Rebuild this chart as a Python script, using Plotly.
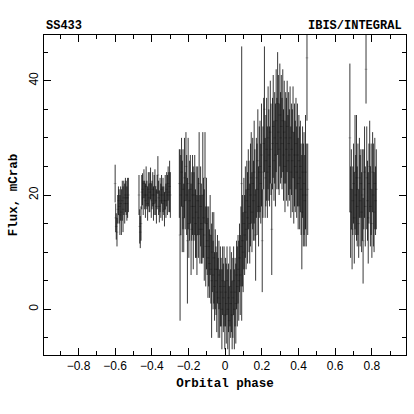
import plotly.graph_objects as go

# ---- data ----
# group A: orbital phase -0.60 .. -0.53
phase_a = [-0.600, -0.597, -0.594, -0.590, -0.586, -0.582, -0.578, -0.574, -0.570, -0.566,
           -0.561, -0.557, -0.553, -0.548, -0.544, -0.540, -0.536, -0.532, -0.528]
flux_a = [22.0, 16.0, 14.5, 13.5, 17.5, 19.0, 18.0, 16.5, 18.5, 17.0,
          19.0, 17.5, 19.5, 18.5, 20.0, 19.5, 18.5, 19.5, 20.0]
err_a = [3.3, 2.5, 2.3, 2.5, 2.5, 2.5, 3.0, 3.5, 3.0, 4.0,
         3.5, 4.0, 3.0, 3.5, 3.0, 3.0, 3.0, 3.5, 3.0]

# group B: orbital phase -0.47 .. -0.30
phase_b = [-0.470, -0.466, -0.463, -0.459, -0.455, -0.451, -0.447, -0.443, -0.439, -0.435,
           -0.431, -0.427, -0.423, -0.419, -0.415, -0.411, -0.407, -0.403, -0.399, -0.395,
           -0.391, -0.387, -0.383, -0.379, -0.375, -0.371, -0.367, -0.363, -0.359, -0.355,
           -0.351, -0.347, -0.343, -0.339, -0.335, -0.331, -0.327, -0.323, -0.319, -0.315,
           -0.311, -0.307, -0.303, -0.299]
flux_b = [20.0, 14.5, 13.5, 15.0, 20.5, 21.0, 19.5, 22.0, 20.0, 19.0,
          21.5, 20.0, 18.5, 21.0, 19.5, 20.5, 22.0, 19.0, 20.0, 21.0,
          18.5, 20.0, 21.5, 19.0, 18.0, 20.5, 23.5, 19.5, 18.0, 20.0,
          19.0, 21.0, 18.5, 20.0, 19.0, 17.5, 20.5, 19.0, 21.0, 20.0,
          22.0, 20.5, 21.5, 20.0]
err_b = [3.5, 3.0, 2.8, 3.0, 3.0, 2.8, 3.0, 2.5, 2.5, 3.0,
         3.5, 2.5, 3.0, 3.0, 2.5, 3.5, 2.8, 3.0, 2.5, 3.0,
         3.0, 3.5, 3.0, 2.5, 3.0, 3.0, 3.3, 3.0, 2.8, 3.0,
         3.0, 2.5, 3.0, 3.0, 2.5, 3.0, 3.0, 3.0, 3.0, 3.5,
         3.0, 3.5, 4.5, 4.0]

# group C: orbital phase -0.25 .. 0.45
phase_c = [-0.250, -0.246, -0.242, -0.238, -0.234, -0.230, -0.226, -0.222, -0.218, -0.214,
           -0.210, -0.206, -0.202, -0.198, -0.194, -0.190, -0.186, -0.182, -0.178, -0.174,
           -0.170, -0.166, -0.162, -0.158, -0.154, -0.150, -0.146, -0.142, -0.138, -0.134,
           -0.130, -0.126, -0.122, -0.118, -0.114, -0.110, -0.106, -0.102, -0.098, -0.094,
           -0.090, -0.086, -0.082, -0.078, -0.074, -0.070, -0.066, -0.062, -0.058, -0.054,
           -0.050, -0.046, -0.042, -0.038, -0.034, -0.030, -0.026, -0.022, -0.018, -0.014,
           -0.010, -0.006, -0.002, 0.002, 0.006, 0.010, 0.014, 0.018, 0.022, 0.026,
           0.030, 0.034, 0.038, 0.042, 0.046, 0.050, 0.054, 0.058, 0.062, 0.066,
           0.070, 0.074, 0.078, 0.082, 0.086, 0.090, 0.094, 0.098, 0.102, 0.106,
           0.110, 0.114, 0.118, 0.122, 0.126, 0.130, 0.134, 0.138, 0.142, 0.146,
           0.150, 0.154, 0.158, 0.162, 0.166, 0.170, 0.174, 0.178, 0.182, 0.186,
           0.190, 0.194, 0.198, 0.202, 0.206, 0.210, 0.214, 0.218, 0.222, 0.226,
           0.230, 0.234, 0.238, 0.242, 0.246, 0.250, 0.254, 0.258, 0.262, 0.266,
           0.270, 0.274, 0.278, 0.282, 0.286, 0.290, 0.294, 0.298, 0.302, 0.306,
           0.310, 0.314, 0.318, 0.322, 0.326, 0.330, 0.334, 0.338, 0.342, 0.346,
           0.350, 0.354, 0.358, 0.362, 0.366, 0.370, 0.374, 0.378, 0.382, 0.386,
           0.390, 0.394, 0.398, 0.402, 0.406, 0.410, 0.414, 0.418, 0.422, 0.426,
           0.430, 0.434, 0.438, 0.442, 0.446, 0.450]
flux_c = [22, 13, 20, 24, 18, 21, 16, 23, 19, 25,
          20, 12, 22, 15, 19, 21, 14, 18, 20, 16,
          18, 20, 15, 17, 13, 19, 16, 22, 14, 18,
          15, 14, 20, 16, 13, 23, 11, 15, 12, 9,
          11, 8, 13, 7, 5, 10, 6, 9, 4, 7,
          5, 3, 7, 2, 6, 1, 4, 3, 0, 5,
          2, 4, -1, 3, 1, 5, 0, 2, -2, 4,
          1, 3, -1, 2, 5, 0, 3, 1, 6, 4,
          7, 5, 9, 6, 11, 22, 12, 10, 15, 13,
          17, 14, 19, 16, 21, 18, 15, 20, 23, 17,
          22, 19, 24, 20, 13, 23, 21, 26, 18, 24,
          25, 22, 27, 12, 24, 29, 35, 23, 26, 28,
          24, 30, 27, 25, 31, 28, 14, 29, 32, 26,
          30, 27, 33, 29, 36, 31, 28, 34, 30, 32,
          29, 33, 27, 31, 25, 30, 28, 32, 26, 29,
          27, 30, 24, 28, 26, 31, 23, 27, 25, 29,
          24, 27, 22, 26, 23, 25, 21, 17, 24, 20,
          22, 19, 24, 20, 44, 21]
err_c = [6, 15, 7, 6, 8, 7, 6, 7, 5, 6,
         7, 11, 8, 6, 7, 6, 8, 6, 7, 9,
         6, 7, 6, 8, 7, 6, 7, 9, 6, 7,
         7, 6, 11, 7, 8, 8, 7, 8, 6, 7,
         7, 6, 7, 6, 10, 7, 6, 8, 6, 7,
         6, 7, 6, 7, 6, 6, 7, 6, 7, 6,
         6, 7, 6, 6, 7, 6, 7, 6, 6, 7,
         6, 7, 6, 7, 6, 7, 6, 7, 6, 7,
         6, 7, 6, 7, 7, 24, 8, 7, 8, 7,
         8, 7, 7, 8, 7, 8, 7, 9, 8, 7,
         8, 7, 9, 8, 8, 7, 8, 9, 7, 8,
         8, 7, 9, 9, 8, 8, 11, 7, 8, 9,
         8, 9, 8, 7, 9, 8, 8, 8, 9, 7,
         8, 9, 9, 8, 9, 10, 8, 9, 8, 9,
         8, 9, 8, 9, 8, 8, 9, 8, 8, 9,
         8, 9, 8, 8, 9, 8, 8, 9, 8, 8,
         8, 9, 8, 8, 9, 8, 8, 10, 8, 9,
         9, 8, 10, 9, 11, 8]

# group D: orbital phase 0.68 .. 0.83
phase_d = [0.680, 0.684, 0.688, 0.692, 0.696, 0.700, 0.704, 0.708, 0.712, 0.716,
           0.720, 0.724, 0.728, 0.732, 0.736, 0.740, 0.744, 0.748, 0.752, 0.756,
           0.760, 0.764, 0.768, 0.772, 0.776, 0.780, 0.784, 0.788, 0.792, 0.796,
           0.800, 0.804, 0.808, 0.812, 0.816, 0.820, 0.824]
flux_d = [30, 17, 21, 14, 19, 22, 16, 24, 20, 23,
          18, 21, 15, 23, 19, 22, 17, 20, 12, 21,
          24, 18, 42, 23, 19, 16, 22, 25, 18, 21,
          15, 24, 20, 17, 22, 19, 21]
err_d = [13, 8, 7, 7, 6, 7, 8, 10, 7, 11,
         7, 8, 6, 7, 8, 6, 7, 8, 7.5, 7,
         8, 7, 6, 9, 7, 8, 7, 8, 7, 8,
         6, 7, 9, 7, 8, 6, 7]

x_range = [-0.988, 0.986]
y_range = [-8, 48]

fig = go.Figure()
for ph, fl, er in [(phase_a, flux_a, err_a), (phase_b, flux_b, err_b),
                   (phase_c, flux_c, err_c), (phase_d, flux_d, err_d)]:
    fig.add_trace(go.Scatter(
        x=ph, y=fl, mode="markers",
        marker=dict(size=2, color="rgba(0,0,0,0.4)", symbol="line-ew",
                    line=dict(width=0.6, color="rgba(0,0,0,0.4)")),
        error_y=dict(type="data", array=er, visible=True, thickness=1,
                     width=0, color="rgba(0,0,0,0.78)"),
        showlegend=False, hoverinfo="skip"))

mono = "Liberation Mono"
fig.update_layout(
    width=414, height=414,
    margin=dict(l=44, r=8, t=35, b=59),
    paper_bgcolor="white", plot_bgcolor="white",
    font=dict(family="Liberation Sans", size=12, color="black"),
    xaxis=dict(range=x_range, dtick=0.2, tick0=0, ticks="inside", ticklen=7,
               tickcolor="black", tickwidth=1,
               showline=True, linecolor="black", linewidth=1, mirror="ticks",
               showgrid=False, zeroline=False,
               minor=dict(dtick=0.1, ticks="inside", ticklen=4, tickcolor="black"),
               title=dict(text="<b>Orbital phase</b>",
                          font=dict(family=mono, size=12.5), standoff=5),
               tickfont=dict(family="Liberation Sans", size=12)),
    yaxis=dict(range=y_range, dtick=20, tick0=0, ticks="inside", ticklen=7,
               tickcolor="black", tickwidth=1, tickangle=-90,
               showline=True, linecolor="black", linewidth=1, mirror="ticks",
               showgrid=False, zeroline=False,
               minor=dict(dtick=5, ticks="inside", ticklen=4, tickcolor="black"),
               title=dict(text="<b>Flux, mCrab</b>",
                          font=dict(family=mono, size=12.5), standoff=6),
               tickfont=dict(family="Liberation Sans", size=12)),
    annotations=[
        dict(text="<b>SS433</b>", xref="paper", yref="paper", x=0, y=1,
             xanchor="left", yanchor="bottom", showarrow=False, yshift=0,
             font=dict(family=mono, size=12)),
        dict(text="<b>IBIS/INTEGRAL</b>", xref="paper", yref="paper", x=1, y=1,
             xanchor="right", yanchor="bottom", showarrow=False, xshift=-2,
             font=dict(family=mono, size=12)),
    ],
)
fig.write_html("out.html")
